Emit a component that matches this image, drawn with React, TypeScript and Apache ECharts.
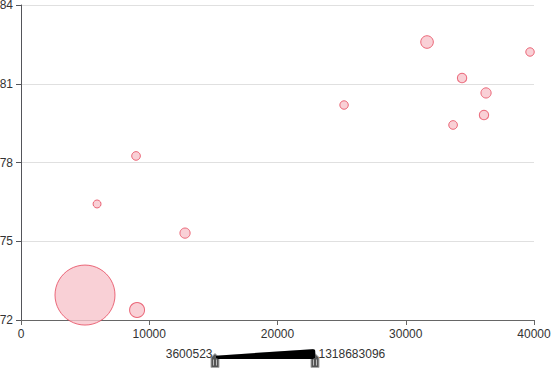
import React, { useEffect, useRef } from "react";
import * as echarts from "echarts";

const gdp = [4990, 9050, 5930, 8970, 12790, 25190, 31660, 34390, 36260, 33690, 36100, 39690];
const lifeExp = [72.95, 72.38, 76.42, 78.25, 75.31, 80.19, 82.59, 81.22, 80.65, 79.43, 79.81, 82.21];
const population = [1318683096, 180000000, 3600523, 20000000, 60000000, 15000000, 120000000, 40000000, 60000000, 20000000, 40000000, 15000000];
const yTicks = [72, 75, 78, 81, 84];
const xTicks = [0, 10000, 20000, 30000, 40000];
const popRange = [3600523, 1318683096];

function handle(cx: number) {
  const top = 353.5;
  return {
    type: "group",
    children: [
      {
        type: "polygon",
        shape: {
          points: [
            [cx, top],
            [cx + 4, top + 4],
            [cx + 4, top + 14],
            [cx - 4, top + 14],
            [cx - 4, top + 4],
          ],
        },
        style: { fill: "#555", stroke: "#aaa", lineWidth: 1 },
      },
      { type: "line", shape: { x1: cx - 1.5, y1: top + 6, x2: cx - 1.5, y2: top + 12 }, style: { stroke: "#bbb", lineWidth: 1 } },
      { type: "line", shape: { x1: cx + 1.5, y1: top + 6, x2: cx + 1.5, y2: top + 12 }, style: { stroke: "#bbb", lineWidth: 1 } },
    ],
  };
}

export default function App() {
  const ref = useRef<HTMLDivElement>(null);
  useEffect(() => {
    if (!ref.current) return;
    document.body.style.margin = "0";
    const chart = echarts.init(ref.current, undefined, { renderer: "svg" });
    const data = gdp.map((g, i) => [g, lifeExp[i], population[i]]);
    chart.setOption({
      animation: false,
      textStyle: { fontFamily: "Liberation Sans, Arial, sans-serif" },
      grid: { left: 21, right: 17, top: 5, bottom: 57, outerBoundsMode: "none" },
      xAxis: {
        type: "value",
        min: xTicks[0],
        max: xTicks[xTicks.length - 1],
        interval: 10000,
        splitLine: { show: false },
        axisLabel: { color: "#333", fontSize: 12, formatter: (v: number) => String(v) },
        axisLine: { lineStyle: { color: "#666" } },
        axisTick: { lineStyle: { color: "#666" } },
      },
      yAxis: {
        type: "value",
        min: yTicks[0],
        max: yTicks[yTicks.length - 1],
        interval: 3,
        axisLabel: { color: "#333", fontSize: 12, formatter: (v: number) => String(v) },
        splitLine: { lineStyle: { color: "#e0e0e0" } },
      },
      visualMap: {
        type: "continuous",
        dimension: 2,
        min: popRange[0],
        max: popRange[1],
        calculable: false,
        orient: "horizontal",
        align: "top",
        left: "center",
        bottom: 2,
        itemWidth: 10,
        itemHeight: 100,
        textGap: 3,
        text: [String(popRange[1]), String(popRange[0])],
        textStyle: { color: "#333", fontSize: 12 },
        inRange: { symbolSize: [8, 60] },
        controller: { inRange: { symbolSize: [8, 60], color: ["#000"] } },
      },
      graphic: [handle(215), handle(315)],
      series: [
        {
          type: "scatter",
          data,
          itemStyle: {
            color: "#f8c4cc",
            borderColor: "#e6475c",
            borderWidth: 1,
          },
        },
      ],
    });
    return () => chart.dispose();
  }, []);
  return <div ref={ref} style={{ width: 551, height: 377 }} />;
}
